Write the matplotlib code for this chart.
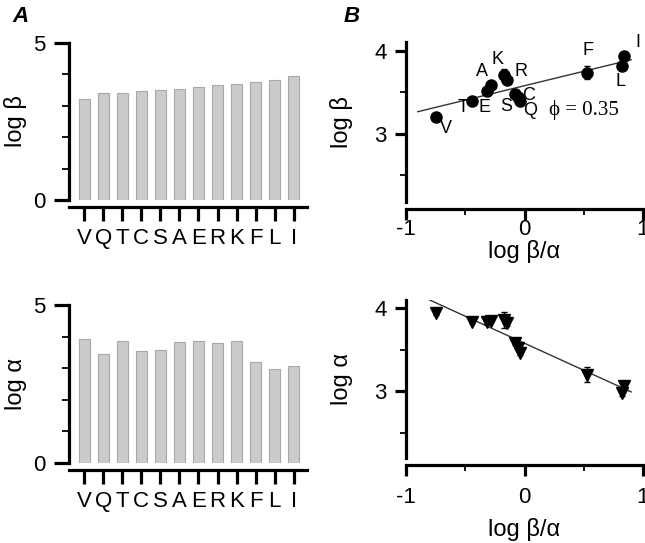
import numpy as np
import matplotlib
matplotlib.use("Agg")
import matplotlib.pyplot as plt

plt.rcParams['font.family'] = ['Liberation Sans', 'DejaVu Sans']
plt.rcParams['axes.unicode_minus'] = False

residues = ["V", "Q", "T", "C", "S", "A", "E", "R", "K", "F", "L", "I"]
log_beta = [3.21, 3.42, 3.42, 3.48, 3.51, 3.54, 3.59, 3.67, 3.69, 3.76, 3.82, 3.95]
log_alpha = [3.92, 3.44, 3.85, 3.54, 3.57, 3.83, 3.86, 3.81, 3.85, 3.21, 2.97, 3.08]

# scatter values
x_ratio = [-0.75, -0.04, -0.44, -0.08, -0.056, -0.28, -0.32, -0.15, -0.17, 0.53, 0.826, 0.84]
y_beta = [3.20, 3.40, 3.40, 3.485, 3.44, 3.585, 3.52, 3.65, 3.71, 3.74, 3.815, 3.94]
err_beta = [0.02, 0.02, 0.02, 0.02, 0.02, 0.02, 0.02, 0.03, 0.07, 0.08, 0.03, 0.03]
y_alpha = [3.94, 3.46, 3.84, 3.58, 3.52, 3.85, 3.83, 3.82, 3.86, 3.20, 2.98, 3.06]
err_alpha = [0.02, 0.02, 0.02, 0.02, 0.02, 0.02, 0.02, 0.03, 0.10, 0.09, 0.03, 0.04]

fit_beta = (0.35, 3.58)     # slope, intercept
fit_alpha = (-0.65, 3.58)
fit_beta_x = [-0.9, 0.9]
fit_alpha_x = [-0.81, 0.9]

# label offsets (pixels) for panel B
lab_off = {"V": (10, -11), "T": (-9, -7), "E": (-2, -17), "A": (-9, 14),
           "K": (-7, 15), "R": (14, 8), "S": (-12, -9), "C": (14, -2),
           "Q": (10, -10), "F": (1, 22), "I": (14, 14), "L": (-2, -15)}

W, H = 645, 543
fig = plt.figure(figsize=(W / 100, H / 100), dpi=100)

def box(l, r, t, b):
    return [l / W, 1 - b / H, (r - l) / W, (b - t) / H]

ax1 = fig.add_axes(box(69, 307, 43, 200))
ax2 = fig.add_axes(box(69, 307, 305, 463))
ax3 = fig.add_axes(box(406, 643, 42, 202))
ax4 = fig.add_axes(box(406, 643, 300, 458))

lw = 2.3
fs = 16

def style(ax):
    for s in ["top", "right"]:
        ax.spines[s].set_visible(False)
    for s in ["left", "bottom"]:
        ax.spines[s].set_linewidth(lw)
    ax.spines["bottom"].set_position(("outward", 5))

xpos = np.arange(len(residues))
for ax, vals, lab in [(ax1, log_beta, "log β"), (ax2, log_alpha, "log α")]:
    style(ax)
    ax.bar(xpos, vals, width=0.58, color="#cbcbcb", edgecolor="#a8a8a8", linewidth=0.8)
    ax.set_xlim(-0.8, 11.7)
    ax.set_ylim(0, 5)
    ax.set_xticks(xpos)
    ax.set_xticklabels(residues, fontsize=fs)
    ax.set_yticks([0, 5])
    ax.set_yticks([1, 2, 3, 4], minor=True)
    ax.tick_params(axis="x", length=10, width=lw, pad=5)
    ax.tick_params(axis="y", which="major", length=11, width=lw, pad=6, labelsize=fs)
    ax.tick_params(axis="y", which="minor", length=5, width=1.3)
    ax.set_ylabel(lab, fontsize=17)
    ax.yaxis.set_label_coords(-0.176, 0.5)

for ax, ys, es, fit, fx, mk, lab, pad, xl in [
        (ax3, y_beta, err_beta, fit_beta, fit_beta_x, "o", "log β", -1, -0.235),
        (ax4, y_alpha, err_alpha, fit_alpha, fit_alpha_x, "v", "log α", 8, -0.38)]:
    style(ax)
    fxa = np.array(fx)
    ax.plot(fxa, fit[0] * fxa + fit[1], color="#333333", lw=1.0, zorder=2)
    ax.errorbar(x_ratio, ys, yerr=es, fmt=mk, color="black", ms=8 if mk == "o" else 9,
                elinewidth=1.0, capsize=2.5, capthick=1.0, zorder=3)
    ax.set_xlim(-1, 1)
    ax.set_xticks([-1, 0, 1])
    ax.set_xticks([-0.5, 0.5], minor=True)
    ax.set_yticks([3, 4])
    ax.set_yticks([2.5, 3.5], minor=True)
    ax.tick_params(axis="x", which="major", length=8, width=lw, pad=pad, labelsize=fs)
    ax.tick_params(axis="x", which="minor", length=4, width=1.3)
    ax.tick_params(axis="y", which="major", length=8, width=lw, pad=6, labelsize=fs)
    ax.tick_params(axis="y", which="minor", length=4, width=1.3)
    ax.set_ylabel(lab, fontsize=17)
    ax.yaxis.set_label_coords(-0.224, 0.5)
    ax.set_xlabel("log β/α", fontsize=17)
    ax.xaxis.set_label_coords(0.5, xl)

ax3.set_ylim(2.17, 4.11)
ax4.set_ylim(2.2, 4.1)

for r, x, y in zip(residues, x_ratio, y_beta):
    ax3.annotate(r, (x, y), xytext=lab_off[r], textcoords="offset pixels",
                 ha="center", va="center", fontsize=13)
ax3.text(0.5, 3.28, "ϕ = 0.35", family=["Liberation Serif", "DejaVu Serif"],
         fontsize=15, ha="center", va="center")

fig.text(12 / W, 1 - 17 / H, "A", fontsize=16, fontweight="bold", style="italic",
         ha="left", va="center")
fig.text(344 / W, 1 - 17 / H, "B", fontsize=16, fontweight="bold", style="italic",
         ha="left", va="center")

fig.savefig("out.png", dpi=100)
